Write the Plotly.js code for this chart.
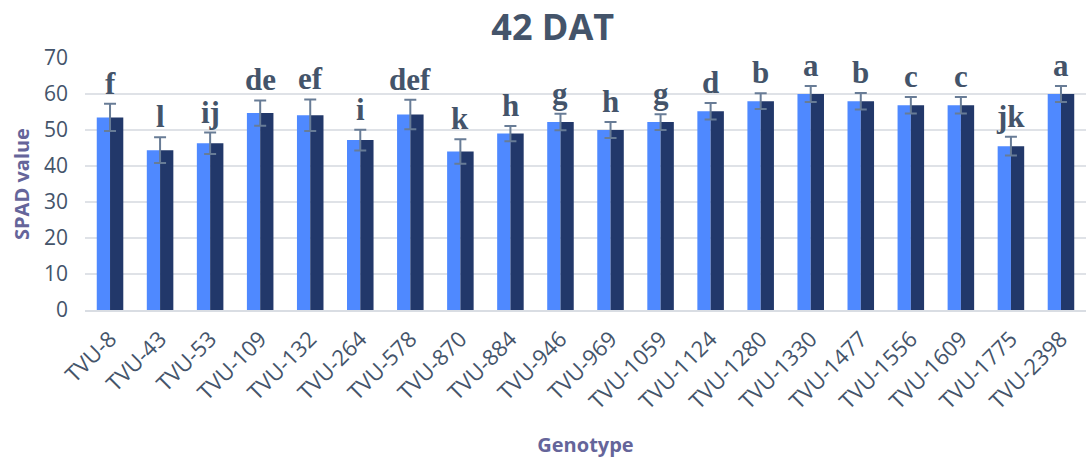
<!DOCTYPE html>
<html><head><meta charset="utf-8">
<script src="https://cdn.plot.ly/plotly-3.0.1.min.js"></script>
<style>html,body{margin:0;padding:0;background:#fff}#chart{width:1086px;height:458px}</style>
</head><body><div id="chart"></div>
<script>
const genotypes = ["TVU-8","TVU-43","TVU-53","TVU-109","TVU-132","TVU-264","TVU-578","TVU-870","TVU-884","TVU-946","TVU-969","TVU-1059","TVU-1124","TVU-1280","TVU-1330","TVU-1477","TVU-1556","TVU-1609","TVU-1775","TVU-2398"];
const spadValues = [53.5,44.4,46.3,54.7,54.1,47.2,54.3,44.0,49.0,52.2,50.0,52.2,55.2,58.0,60.0,58.0,56.9,56.9,45.5,60.0];
const errorValues = [3.8,3.6,3.0,3.5,4.4,2.9,4.1,3.4,2.1,2.3,2.2,2.2,2.3,2.2,2.2,2.3,2.3,2.3,2.6,2.2];
const groupLetters = ["f","l","ij","de","ef","i","def","k","h","g","h","g","d","b","a","b","c","c","jk","a"];
const yTicks = [0,10,20,30,40,50,60,70];

const textColor = "#44546a";
const traces = [
  {type:"bar", x:genotypes, y:spadValues, width:0.265, offset:-0.265,
   marker:{color:"#4f89ff", line:{width:0}}, showlegend:false, hoverinfo:"x+y"},
  {type:"bar", x:genotypes, y:spadValues, width:0.265, offset:0,
   marker:{color:"#22386a", line:{width:0}}, showlegend:false, hoverinfo:"x+y"},
  {type:"scatter", mode:"markers", x:genotypes, y:spadValues,
   marker:{size:1, opacity:0}, showlegend:false, hoverinfo:"skip",
   error_y:{type:"data", array:errorValues, visible:true, color:"#687c96", thickness:2, width:6}}
];

const annotations = genotypes.map((g,i)=>({
  x:g, y:spadValues[i]+errorValues[i], xref:"x", yref:"y",
  text:groupLetters[i], showarrow:false, yanchor:"bottom", yshift:1,
  font:{family:"Liberation Serif", size:31, color:textColor, weight:"bold"}
}));

const layout = {
  width:1086, height:458,
  margin:{l:85, r:0, t:58, b:148},
  paper_bgcolor:"#ffffff", plot_bgcolor:"#ffffff",
  barmode:"overlay",
  title:{text:"42 DAT", xref:"container", yref:"container", x:0.509, y:0.94, xanchor:"center", yanchor:"middle",
    font:{family:"Open Sans", size:36, color:textColor, weight:"bold"}},
  xaxis:{type:"category", range:[-0.5,19.5], tickangle:-45, showgrid:false, showline:true, linecolor:"#d9dde3", linewidth:1.5,
    ticks:"", ticklabelstandoff:6, tickfont:{family:"Open Sans", size:22, color:textColor},
    title:{text:"Genotype", standoff:24, font:{family:"Open Sans", size:20, color:"#65659a", weight:"bold"}}},
  yaxis:{range:[0,70], tickvals:yTicks, showgrid:true, gridcolor:"#dfe2e7", gridwidth:1.5, zeroline:false,
    ticks:"", ticklabelstandoff:16, tickfont:{family:"Open Sans", size:21, color:textColor},
    title:{text:"SPAD value", standoff:8, font:{family:"Open Sans", size:20, color:"#65659a", weight:"bold"}}},
  annotations:annotations
};
Plotly.newPlot("chart", traces, layout, {staticPlot:true, displayModeBar:false});
</script></body></html>
